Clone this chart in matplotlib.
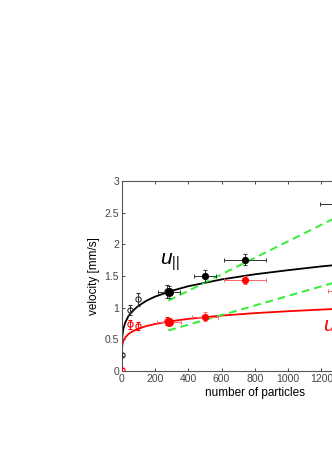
import matplotlib
matplotlib.use("Agg")
import matplotlib.pyplot as plt

plt.rcParams['font.family'] = ['Liberation Sans', 'DejaVu Sans']
plt.rcParams['mathtext.fontset'] = 'custom'
plt.rcParams['mathtext.it'] = 'Liberation Sans:italic'
plt.rcParams['mathtext.rm'] = 'Liberation Sans'

# ---- data ----
par_open_x = [0, 50, 100, 275]
par_open_y = [0.26, 0.96, 1.13, 1.26]
par_open_yerr = [0.03, 0.08, 0.10, 0.10]

par_fill_x = [285, 500, 740, 1330]
par_fill_y = [1.25, 1.50, 1.76, 2.63]
par_fill_xerr = [65, 65, 125, 140]
par_fill_yerr = [0.10, 0.10, 0.09, 0.10]

perp_open_x = [0, 50, 100, 275]
perp_open_y = [0.02, 0.74, 0.71, 0.79]
perp_open_yerr = [0.03, 0.07, 0.06, 0.06]

perp_fill_x = [285, 500, 740, 1340]
perp_fill_y = [0.78, 0.86, 1.44, 1.27]
perp_fill_xerr = [70, 80, 125, 100]
perp_fill_yerr = [0.06, 0.07, 0.06, 0.06]

fit_x = [0, 1, 2, 5, 10, 20, 40, 60, 100, 150, 200, 300, 400, 600, 800, 1000, 1200, 1600]
fit_par_y = [0, 0.43, 0.49, 0.58, 0.665, 0.758, 0.865, 0.934, 1.029, 1.112, 1.174, 1.266,
             1.339, 1.446, 1.527, 1.592, 1.652, 1.75]
fit_perp_y = [0, 0.335, 0.37, 0.425, 0.473, 0.525, 0.582, 0.619, 0.668, 0.711, 0.742, 0.788,
              0.823, 0.875, 0.914, 0.944, 0.970, 1.02]

lin_x = [280, 1600]
lin_upper_y = [1.11, 2.83]
lin_lower_y = [0.64, 1.64]

xticks = [0, 200, 400, 600, 800, 1000, 1200, 1400]
yticks = [0, 0.5, 1, 1.5, 2, 2.5, 3]

# ---- figure ----
fig = plt.figure(figsize=(3.32, 4.70), dpi=100)
ax = fig.add_axes([0.3666, 0.2106, 0.802, 0.4043])

red = '#ff0000'
green = '#33ee33'

ax.plot(fit_x, fit_par_y, color='black', lw=1.3, zorder=2)
ax.plot(fit_x, fit_perp_y, color=red, lw=1.3, zorder=2)
ax.plot(lin_x, lin_upper_y, color=green, lw=1.4, ls=(0, (4, 2.5)), zorder=3)
ax.plot(lin_x, lin_lower_y, color=green, lw=1.4, ls=(0, (4, 2.5)), zorder=3)

ekw = dict(elinewidth=0.7, capsize=1.6, capthick=0.7)

# parallel
ax.errorbar(par_open_x, par_open_y, yerr=par_open_yerr, fmt='o', ms=3.8, mfc='none',
            mec='#333333', mew=0.8, ecolor='#333333', zorder=4, **ekw)
ax.errorbar(par_fill_x, par_fill_y, xerr=par_fill_xerr, yerr=par_fill_yerr, fmt='o', ms=4.2,
            mfc='black', mec='black', ecolor='#333333', zorder=4, **ekw)
ax.plot(par_fill_x[:1], par_fill_y[:1], 'o', ms=5.5, color='black', zorder=5)

# perpendicular
ax.errorbar(perp_open_x, perp_open_y, yerr=perp_open_yerr, fmt='o', ms=3.8, mfc='none',
            mec=red, mew=0.8, ecolor=red, zorder=4, **ekw)
ax.errorbar(perp_fill_x, perp_fill_y, xerr=perp_fill_xerr, yerr=perp_fill_yerr, fmt='o', ms=4.2,
            mfc=red, mec=red, ecolor='#ff6666', zorder=4, **ekw)
ax.plot(perp_fill_x[:1], perp_fill_y[:1], 'o', ms=5.5, color=red, zorder=5)

ax.text(290, 1.72, r'$u_{||}$', fontsize=15, color='black', ha='center', va='center')
ax.text(1210, 0.68, r'$u_{\perp}$', fontsize=15, color=red, ha='left', va='center')

ax.set_xlim(0, 1600)
ax.set_ylim(0, 3)
ax.set_xticks(xticks)
ax.set_yticks(yticks)
ax.set_yticklabels(['0', '0.5', '1', '1.5', '2', '2.5', '3'])
ax.tick_params(direction='in', length=2.5, width=0.7, colors='#444444', labelsize=7.5,
               top=True, right=True, pad=2)
for s in ax.spines.values():
    s.set_color('#555555')
    s.set_linewidth(0.8)

ax.set_xlabel('number of particles', fontsize=8.5, color='black', labelpad=2)
ax.set_ylabel('velocity [mm/s]', fontsize=8.5, color='black', labelpad=3)

fig.savefig('out.png', dpi=100)
